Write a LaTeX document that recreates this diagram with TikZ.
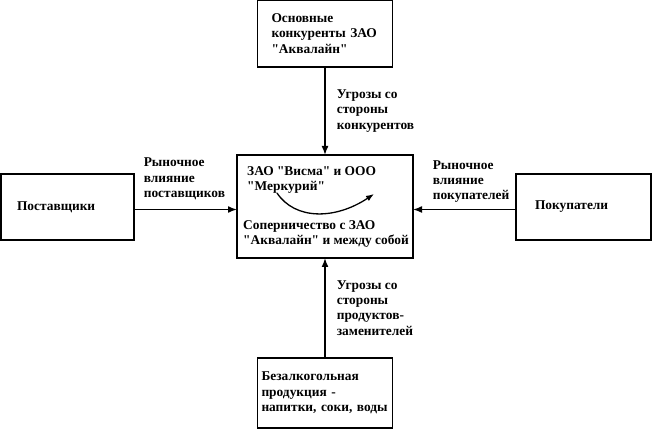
\documentclass[tikz,border=0pt]{standalone}
\usepackage{fontspec}
\setmainfont{Liberation Serif}[Ligatures=TeXOff]
\usetikzlibrary{positioning, arrows.meta, calc}

\tikzset{
  box/.style={draw, line width=1.4pt, outer sep=0pt, align=left,
    font=\bfseries\fontsize{13.4}{15.3}\selectfont},
  lbl/.style={inner sep=0pt, align=left, font=\bfseries\fontsize{13.4}{15.3}\selectfont},
  flow/.style={line width=1.6pt, -{Latex[length=9pt, width=7pt]}}
}

\begin{document}
\begin{tikzpicture}[x=1pt, y=1pt]
  \useasboundingbox (0,0) rectangle (652,430);

  % Central box: the firms
  \node[box, minimum width=176pt, minimum height=103pt] (firms) at (325,223.5) {};
  \node[lbl, anchor=north west] (firmsname) at ([shift={(10pt,-11pt)}]firms.north west)
    {ЗАО "Висма" и ООО\\"Меркурий"};
  \node[lbl, anchor=south west] (rivalry) at ([shift={(6pt,10pt)}]firms.south west)
    {Соперничество с ЗАО\\"Аквалайн" и между собой};
  \coordinate (arcstart) at ([shift={(40pt,-38pt)}]firms.north west);
  \coordinate (arcend) at ([shift={(137pt,-39pt)}]firms.north west);
  \draw[line width=1.3pt, -{Latex[length=8pt, width=6pt]}] (arcstart)
    .. controls ([shift={(58pt,-65pt)}]firms.north west) and ([shift={(98pt,-65pt)}]firms.north west) .. (arcend);

  % Competitors on top
  \node[box, minimum width=135pt, minimum height=67pt, text width=107pt, inner xsep=14pt,
    above=88pt of firms] (rivals) {Основные\\конкуренты ЗАО\\"Аквалайн"};

  % Suppliers and buyers
  \node[box, minimum width=133pt, minimum height=66pt, text width=101pt, inner xsep=16pt,
    left=103pt of firms, yshift=-0.5pt] (suppliers) {Поставщики};
  \node[box, minimum width=135pt, minimum height=66pt, text width=97pt, inner xsep=19pt,
    right=103pt of firms, yshift=-0.5pt] (buyers) {Покупатели};

  % Substitutes below
  \node[box, minimum width=135pt, minimum height=70pt, text width=127pt, inner xsep=4pt,
    below=100pt of firms] (substitutes) {Безалкогольная\\продукция -\\напитки, соки, воды};

  % Forces
  \draw[flow] (rivals) -- (firms)
    node[lbl, midway, anchor=west, xshift=11pt] (threatrivals) {Угрозы со\\стороны\\конкурентов};
  \draw[flow] (substitutes) -- (firms)
    node[lbl, midway, anchor=west, xshift=11pt] (threatsubst) {Угрозы со\\стороны\\продуктов-\\заменителей};
  \draw[flow] ([yshift=-2.5pt]suppliers.east) -- ([yshift=-2.5pt]suppliers.east -| firms.west)
    node[lbl, pos=0, anchor=south west, shift={(9pt,9pt)}] (powersupp) {Рыночное\\влияние\\поставщиков};
  \draw[flow] ([yshift=-2.5pt]buyers.west) -- ([yshift=-2.5pt]buyers.west -| firms.east)
    node[lbl, pos=1, anchor=south west, shift={(19pt,6pt)}] (powerbuy) {Рыночное\\влияние\\покупателей};
\end{tikzpicture}
\end{document}
